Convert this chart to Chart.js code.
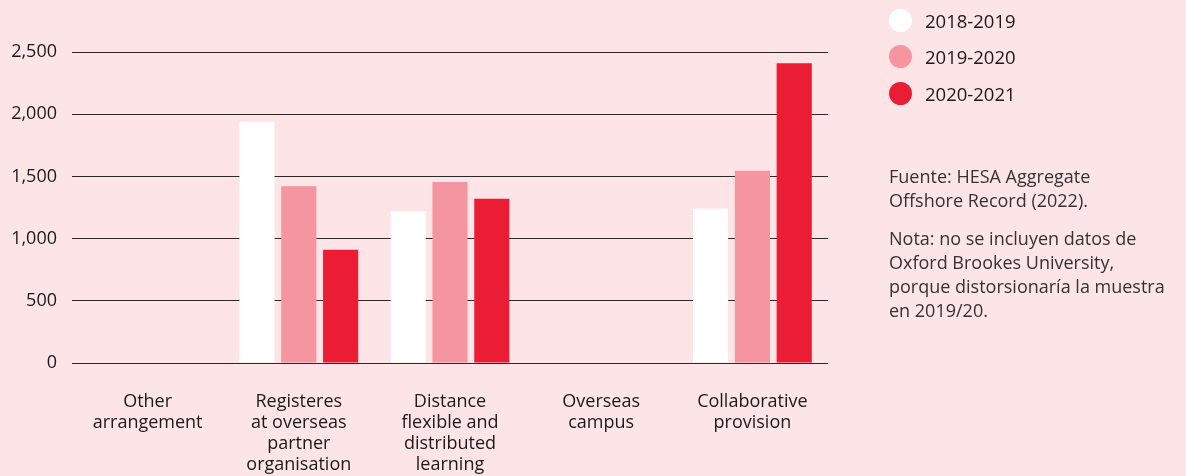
<!DOCTYPE html>
<html>
<head>
<meta charset="utf-8">
<script src="https://cdn.jsdelivr.net/npm/chart.js@4/dist/chart.umd.min.js"></script>
<style>
  html, body { margin: 0; padding: 0; background: #fce4e7; }
  body { width: 1186px; height: 476px; position: relative; overflow: hidden; font-family: "Open Sans", "Noto Sans", sans-serif; }
  #wrap { position: absolute; left: 0; top: 0; width: 1186px; height: 476px; }
  #legend { position: absolute; left: 889px; top: 2px; }
  .item { display: flex; align-items: center; height: 36.5px; font-size: 18.5px; color: #1a1a1a; }
  .dot { width: 23px; height: 23px; border-radius: 50%; margin-right: 13px; }
  #notes { position: absolute; left: 889px; top: 164px; font-size: 18px; line-height: 24px; color: #333; }
  #notes p { margin: 0 0 14px 0; }
</style>
</head>
<body>
<div id="wrap"><canvas id="chart" width="1186" height="476"></canvas></div>
<div id="legend"></div>
<div id="notes">
  <p>Fuente: HESA Aggregate<br>Offshore Record (2022).</p>
  <p>Nota: no se incluyen datos de<br>Oxford Brookes University,<br>porque distorsionaría la muestra<br>en 2019/20.</p>
</div>
<script>
const categories = [
  ["Other", "arrangement"],
  ["Registeres", "at overseas", "partner", "organisation"],
  ["Distance", "flexible and", "distributed", "learning"],
  ["Overseas", "campus"],
  ["Collaborative", "provision"],
];
const seriesNames = ["2018-2019", "2019-2020", "2020-2021"];
const seriesColors = ["#ffffff", "#f4959f", "#ea1d35"];
const values2018 = [null, 1940, 1220, null, 1240];
const values2019 = [null, 1420, 1455, null, 1545];
const values2020 = [null, 910, 1320, null, 2410];
const yTicks = [0, 500, 1000, 1500, 2000, 2500];

const seriesValues = [values2018, values2019, values2020];

const legend = document.getElementById("legend");
seriesNames.forEach((name, i) => {
  const row = document.createElement("div");
  row.className = "item";
  row.innerHTML = '<span class="dot" style="background:' + seriesColors[i] + '"></span>' + name;
  legend.appendChild(row);
});

const font = { family: "'Open Sans', 'Noto Sans', sans-serif", size: 18, lineHeight: 1.15 };

new Chart(document.getElementById("chart"), {
  type: "bar",
  data: {
    labels: categories,
    datasets: seriesNames.map((name, i) => ({
      label: name,
      data: seriesValues[i],
      backgroundColor: seriesColors[i],
      borderWidth: 0,
      categoryPercentage: 0.83,
      barPercentage: 0.84,
    })),
  },
  options: {
    responsive: false,
    animation: false,
    layout: { padding: { top: 52, right: 358, left: 0, bottom: 0 } },
    plugins: { legend: { display: false }, tooltip: { enabled: false } },
    scales: {
      x: {
        grid: { display: false, drawTicks: false },
        border: { display: false },
        ticks: { color: "#1a1a1a", font: font, padding: 29, maxRotation: 0, autoSkip: false },
        afterFit: (scale) => { scale.height = 113; },
      },
      y: {
        min: 0,
        max: 2500,
        afterBuildTicks: (scale) => { scale.ticks = yTicks.map((v) => ({ value: v })); },
        grid: { color: "#2a2a2a", lineWidth: 1, drawTicks: false },
        border: { display: false },
        ticks: {
          color: "#1a1a1a",
          font: font,
          padding: 15,
          callback: (v) => v.toLocaleString("en-US"),
        },
        afterFit: (scale) => { scale.width = 72; },
      },
    },
  },
});
</script>
</body>
</html>
